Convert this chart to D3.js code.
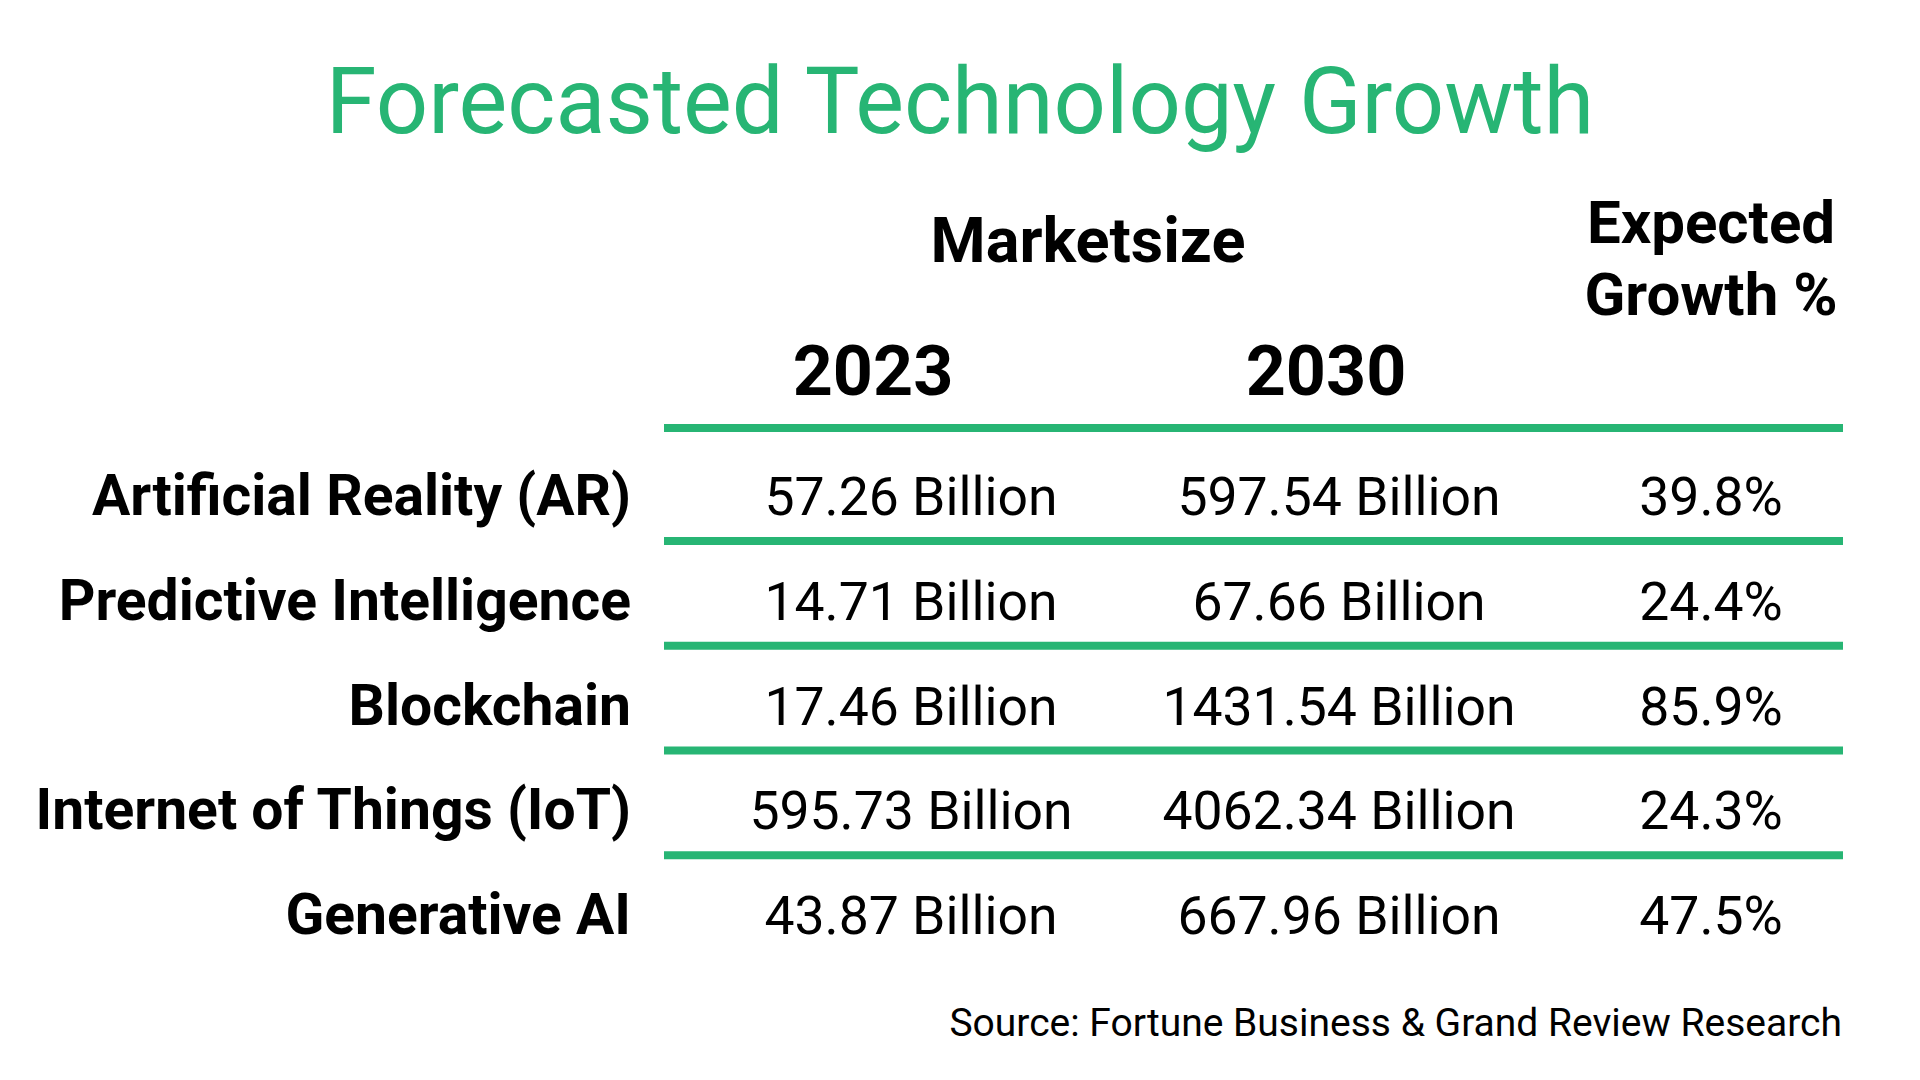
<!DOCTYPE html>
<html>
<head>
<meta charset="utf-8">
<script src="https://cdn.jsdelivr.net/npm/d3@7"></script>
<style>
  html, body { margin: 0; padding: 0; background: #ffffff; }
  svg { display: block; }
  text { font-family: Roboto, "Noto Sans", sans-serif; }
</style>
</head>
<body>
<svg id="chart" width="1920" height="1080"></svg>
<script>
// ---- data ----
const title = "Forecasted Technology Growth";
const categories = ["Artificial Reality (AR)", "Predictive Intelligence", "Blockchain", "Internet of Things (IoT)", "Generative AI"];
const years = ["2023", "2030"];
const size2023 = [57.26, 14.71, 17.46, 595.73, 43.87];
const size2030 = [597.54, 67.66, 1431.54, 4062.34, 667.96];
const growth = [39.8, 24.4, 85.9, 24.3, 47.5];
const groupHeader = "Marketsize";
const growthHeader = ["Expected", "Growth %"];
const unit = "Billion";
const source = "Source: Fortune Business & Grand Review Research";

// ---- layout ----
const W = 1920, H = 1080;
const green = "#27b574";
const svg = d3.select("#chart");

svg.append("rect").attr("width", W).attr("height", H).attr("fill", "#fff");

// title
svg.append("text")
  .attr("x", 960).attr("y", 133)
  .attr("text-anchor", "middle")
  .attr("font-size", 92).attr("font-weight", 400)
  .attr("fill", green)
  .text(title);

// row scale (baselines)
const y = d3.scalePoint().domain(categories).range([515, 934]);
// column centers
const col = d3.scaleOrdinal().domain(["2023", "2030", "growth"]).range([911, 1339, 1711]);
const lineX0 = 664, lineX1 = 1843;

// headers
svg.append("text")
  .attr("x", 1088).attr("y", 262)
  .attr("text-anchor", "middle")
  .attr("font-size", 63).attr("font-weight", 700)
  .text(groupHeader);

const yearHeaderX = d3.scaleOrdinal().domain(years).range([873, 1326]);
svg.selectAll("text.year").data(years).enter().append("text")
  .attr("class", "year")
  .attr("x", d => yearHeaderX(d)).attr("y", 395)
  .attr("text-anchor", "middle")
  .attr("font-size", 70).attr("font-weight", 700)
  .text(d => d);

svg.selectAll("text.gh").data(growthHeader).enter().append("text")
  .attr("class", "gh")
  .attr("x", col("growth")).attr("y", (d, i) => 243 + i * 72)
  .attr("text-anchor", "middle")
  .attr("font-size", 60).attr("font-weight", 700)
  .text(d => d);

// header rule
svg.append("line")
  .attr("x1", lineX0).attr("x2", lineX1)
  .attr("y1", 428).attr("y2", 428)
  .attr("stroke", green).attr("stroke-width", 8);

// row separators
svg.selectAll("line.sep").data(categories.slice(0, -1)).enter().append("line")
  .attr("class", "sep")
  .attr("x1", lineX0).attr("x2", lineX1)
  .attr("y1", d => y(d) + 26).attr("y2", d => y(d) + 26)
  .attr("stroke", green).attr("stroke-width", 8);

// row labels
svg.selectAll("text.cat").data(categories).enter().append("text")
  .attr("class", "cat")
  .attr("x", 631).attr("y", d => y(d))
  .attr("text-anchor", "end")
  .attr("font-size", 57).attr("font-weight", 700)
  .text(d => d);

const fmt = d3.format(".2f");
const rows = categories.map((c, i) => ({ c, a: size2023[i], b: size2030[i], g: growth[i] }));

svg.selectAll("text.v23").data(rows).enter().append("text")
  .attr("class", "v23")
  .attr("x", col("2023")).attr("y", d => y(d.c))
  .attr("text-anchor", "middle")
  .attr("font-size", 53.5)
  .text(d => fmt(d.a) + " " + unit);

svg.selectAll("text.v30").data(rows).enter().append("text")
  .attr("class", "v30")
  .attr("x", col("2030")).attr("y", d => y(d.c))
  .attr("text-anchor", "middle")
  .attr("font-size", 53.5)
  .text(d => fmt(d.b) + " " + unit);

svg.selectAll("text.vg").data(rows).enter().append("text")
  .attr("class", "vg")
  .attr("x", col("growth")).attr("y", d => y(d.c))
  .attr("text-anchor", "middle")
  .attr("font-size", 53.5)
  .text(d => d3.format(".1f")(d.g) + "%");

// source
svg.append("text")
  .attr("x", 1842).attr("y", 1036)
  .attr("text-anchor", "end")
  .attr("font-size", 39)
  .text(source);
</script>
</body>
</html>
